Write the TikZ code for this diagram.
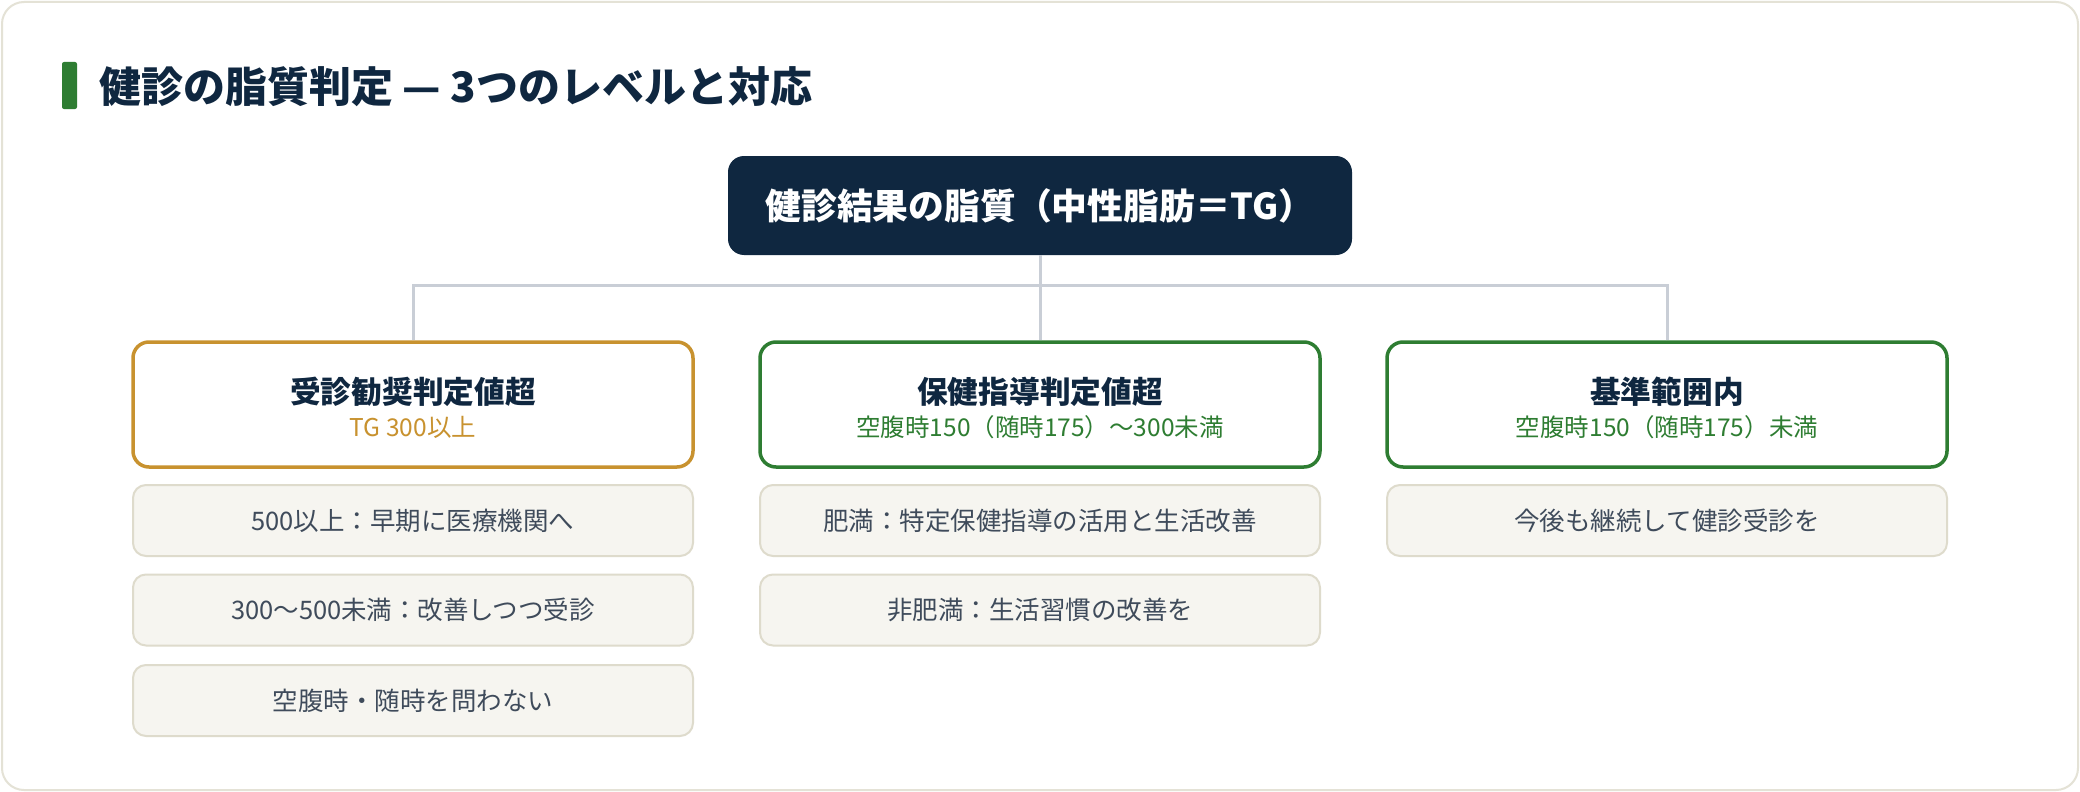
\documentclass[tikz,border=0pt]{standalone}
\usepackage{fontspec}
\setmainfont{Noto Sans CJK JP}
\usetikzlibrary{positioning}
\definecolor{navy}{HTML}{0F2740}
\definecolor{grn}{HTML}{2E7D32}
\definecolor{gold}{HTML}{C8922F}
\definecolor{conn}{HTML}{C9CED6}
\definecolor{detfill}{HTML}{F6F5F0}
\definecolor{detdraw}{HTML}{DEDBCC}
\definecolor{dettext}{HTML}{3F4B5B}
\definecolor{cardline}{HTML}{E4E2D6}
\tikzset{
  levelbox/.style={draw, line width=3.5pt, fill=white, rounded corners=16pt, minimum width=560pt, minimum height=125pt, inner sep=0pt},
  detbox/.style={draw=detdraw, line width=2pt, fill=detfill, rounded corners=13pt, minimum width=560pt, minimum height=71pt, inner sep=0pt, text=dettext, font=\fontsize{25.5}{30}\selectfont},
  lvtitle/.style={text=navy, font=\fontsize{30.7}{36}\selectfont\bfseries, inner sep=0pt},
  lvsub/.style={font=\fontsize{24.5}{29}\selectfont, inner sep=0pt},
  connline/.style={draw=conn, line width=3pt}
}
\begin{document}
\begin{tikzpicture}[x=1pt,y=-1pt]
\useasboundingbox (0,0) rectangle (2080,792);
\fill[white] (0,0) rectangle (2080,792);
\draw[cardline, line width=2pt, fill=white, rounded corners=22pt] (2,2) rectangle (2078,790);
% title
\fill[grn, rounded corners=2pt] (62,62) rectangle (77,109);
\node[anchor=west, text=navy, font=\fontsize{42}{48}\selectfont\bfseries, inner sep=0pt] (title) at (99,87) {健診の脂質判定 — 3つのレベルと対応};
% top node
\node[fill=navy, rounded corners=16pt, minimum width=624pt, minimum height=99pt, inner sep=0pt, text=white, font=\fontsize{35.8}{41}\selectfont\bfseries] (top) at (1040,205.5) {健診結果の脂質（中性脂肪＝TG）};
\coordinate (hub) at (1040,285);
% level boxes
\node[levelbox, draw=gold] (l1) at (413,404.5) {};
\node[levelbox, draw=grn] (l2) at (1040,404.5) {};
\node[levelbox, draw=grn] (l3) at (1667,404.5) {};
% connectors
\draw[connline] (top.south) -- (l2.north);
\draw[connline] (l1.north) |- (hub);
\draw[connline] (l3.north) |- (hub);
% level box texts
\node[lvtitle] (t1) at ([yshift=13pt]l1.center) {受診勧奨判定値超};
\node[lvsub, text=gold] (s1) at ([yshift=-23pt]l1.center) {TG 300以上};
\node[lvtitle] (t2) at ([yshift=13pt]l2.center) {保健指導判定値超};
\node[lvsub, text=grn] (s2) at ([yshift=-23pt]l2.center) {空腹時150（随時175）～300未満};
\node[lvtitle] (t3) at ([yshift=13pt]l3.center) {基準範囲内};
\node[lvsub, text=grn] (s3) at ([yshift=-23pt]l3.center) {空腹時150（随時175）未満};
% detail boxes
\node[detbox] (d11) at (413,520.5) {500以上：早期に医療機関へ};
\node[detbox] (d12) at (413,610) {300～500未満：改善しつつ受診};
\node[detbox] (d13) at (413,700.5) {空腹時・随時を問わない};
\node[detbox] (d21) at (1040,520.5) {肥満：特定保健指導の活用と生活改善};
\node[detbox] (d22) at (1040,610) {非肥満：生活習慣の改善を};
\node[detbox] (d31) at (1667,520.5) {今後も継続して健診受診を};
\end{tikzpicture}
\end{document}
